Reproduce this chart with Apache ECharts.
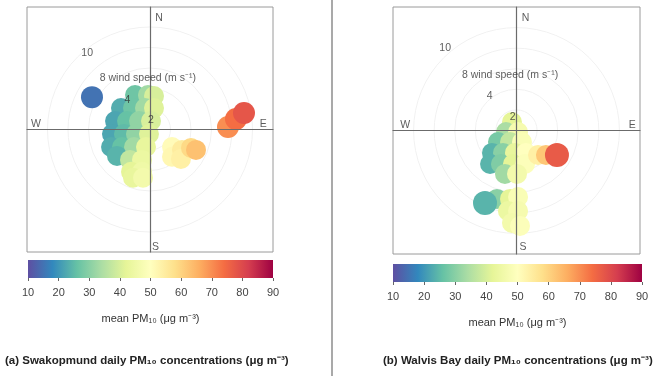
<!DOCTYPE html>
<html>
<head>
<meta charset="utf-8">
<script src="https://cdn.jsdelivr.net/npm/echarts@6/dist/echarts.min.js"></script>
<style>
html, body { margin: 0; padding: 0; background: #fff; }
#chart { width: 658px; height: 376px; }
</style>
</head>
<body>
<div id="chart"></div>
<script>
// polar plot points: [u (east, m/s), v (north, m/s), mean PM10]
var swakopFill = [
    [-1.46, 3.37, 27], [-0.20, 3.37, 33], [0.39, 3.27, 40],
    [-2.83, 2.10, 23], [-1.66, 2.10, 27], [-0.49, 2.10, 33], [0.39, 2.10, 41],
    [-3.41, 0.83, 22], [-2.24, 0.83, 26], [-1.07, 0.83, 31], [0.10, 0.83, 40],
    [-3.71, -0.44, 22], [-2.54, -0.44, 25], [-1.37, -0.44, 31], [-0.10, -0.44, 41],
    [-3.80, -1.71, 23], [-2.73, -1.71, 26], [-1.56, -1.71, 33], [-0.39, -1.71, 43],
    [-3.22, -2.59, 24], [-1.95, -2.98, 37], [-0.78, -2.98, 44],
    [-1.85, -4.15, 42], [-0.78, -4.15, 45], [-1.66, -4.73, 43], [-0.68, -4.73, 46],
    [2.15, -1.71, 51], [2.15, -2.68, 52], [3.12, -2.00, 55], [3.02, -2.88, 54],
    [4.00, -1.80, 59], [4.49, -2.00, 63]
];
var swakopSpots = [
    [-5.66, 3.17, 15],
    [7.61, 0.24, 70], [8.39, 1.02, 74], [9.17, 1.61, 78]
];
var walvisFill = [
    [-0.44, 0.83, 42], [-1.02, -0.15, 34], [0.15, -0.15, 47],
    [-1.80, -1.12, 28], [-0.63, -1.12, 37], [0.53, -1.12, 48],
    [-2.38, -2.18, 24], [-1.31, -2.18, 30], [-0.15, -2.18, 43], [0.92, -2.18, 50],
    [-2.57, -3.25, 24], [-1.51, -3.25, 29], [-0.34, -3.25, 42], [0.83, -3.25, 49],
    [-1.12, -4.22, 33], [0.05, -4.22, 46],
    [2.09, -2.38, 54], [2.86, -2.38, 62],
    [-1.90, -6.65, 30], [-0.63, -6.65, 42], [0.15, -6.46, 48],
    [-0.83, -7.82, 44], [0.15, -7.82, 47], [-0.44, -8.98, 46], [0.34, -9.27, 49]
];
var walvisSpots = [
    [3.93, -2.38, 77],
    [-3.06, -7.04, 24]
];

var rings = [2, 4, 6, 8, 10];
var colourTicks = [10, 20, 30, 40, 50, 60, 70, 80, 90];
var palette = ['#5e4fa2', '#3288bd', '#66c2a5', '#abdda4', '#e6f598', '#ffffbf',
    '#fee08b', '#fdae61', '#f46d43', '#d53e4f', '#9e0142'];

// text inside each polar panel: [x, y, text]
var swakopText = [
    [0.5, 10.9, 'N'], [0.2, -11.5, 'S'], [-11.6, 0.5, 'W'], [10.7, 0.5, 'E'],
    [-6.7, 7.46, '10'], [-4.9, 5.0, '8 wind speed (m s\u207b\u00b9)'],
    [-2.5, 2.88, '4'], [-0.2, 0.93, '2']
];
var walvisText = [
    [0.5, 10.9, 'N'], [0.3, -11.3, 'S'], [-11.3, 0.5, 'W'], [10.9, 0.5, 'E'],
    [-7.5, 8.0, '10'], [-5.3, 5.4, '8 wind speed (m s\u207b\u00b9)'],
    [-2.9, 3.35, '4'], [-0.65, 1.31, '2']
];

var font = 'Liberation Sans, Arial, sans-serif';
var chart = echarts.init(document.getElementById('chart'));

function polarX(i) {
    return {
        gridIndex: i, type: 'value', min: -12, max: 12, z: 5,
        axisLine: {onZero: true, lineStyle: {color: '#6b6b6b', width: 1.2}},
        axisTick: {show: false}, axisLabel: {show: false}, splitLine: {show: false}
    };
}
function barX(i) {
    return {
        gridIndex: i, type: 'value', min: 10, max: 90, interval: 10,
        axisLine: {show: false},
        axisTick: {show: true, length: 3, lineStyle: {color: '#666'}},
        axisLabel: {fontSize: 11, color: '#444', margin: 9, fontFamily: font},
        splitLine: {show: false},
        name: 'mean PM\u2081\u2080 (\u03bcg m\u207b\u00b3)', nameLocation: 'middle', nameGap: 35,
        nameTextStyle: {fontSize: 11, color: '#333', fontFamily: font}
    };
}
function hiddenY(i, mn, mx) {
    return {
        gridIndex: i, type: 'value', min: mn, max: mx, z: 5,
        axisLine: {show: mn < 0, onZero: true, lineStyle: {color: '#6b6b6b', width: 1.2}},
        axisTick: {show: false}, axisLabel: {show: false}, splitLine: {show: false}
    };
}
function ringSeries(i) {
    return {
        type: 'custom', xAxisIndex: i, yAxisIndex: i, silent: true, z: 1,
        data: rings.map(function (r) { return [r]; }),
        renderItem: function (params, api) {
            var c = api.coord([0, 0]);
            var r = api.size([api.value(0), 0])[0];
            return {type: 'circle', shape: {cx: c[0], cy: c[1], r: r},
                style: {fill: 'none', stroke: '#f1f1f1', lineWidth: 1}};
        }
    };
}
function textSeries(i, rows) {
    return {
        type: 'scatter', xAxisIndex: i, yAxisIndex: i, symbolSize: 0, z: 10, silent: true,
        data: rows,
        label: {
            show: true, position: 'inside', align: 'left', verticalAlign: 'middle',
            formatter: function (p) { return p.data[2]; },
            fontSize: 10.5, color: '#333', fontFamily: font
        }
    };
}
function barSeries(i) {
    var stops = palette.map(function (c, k) { return {offset: k / (palette.length - 1), color: c}; });
    return {
        type: 'custom', xAxisIndex: i, yAxisIndex: i, silent: true, clip: false,
        data: [[10, 90]],
        renderItem: function (params, api) {
            var a = api.coord([api.value(0), 1]);
            var b = api.coord([api.value(1), 0]);
            return {type: 'rect', shape: {x: a[0], y: a[1], width: b[0] - a[0], height: b[1] - a[1]},
                style: {fill: new echarts.graphic.LinearGradient(0, 0, 1, 0, stops)}};
        }
    };
}
function dots(i, rows, size) {
    return {type: 'scatter', xAxisIndex: i, yAxisIndex: i, symbolSize: size, z: 3, silent: true,
        itemStyle: {opacity: 1}, data: rows};
}

var option = {
    animation: false,
    textStyle: {fontFamily: font},
    title: [
        {text: '(a) Swakopmund daily PM\u2081\u2080 concentrations (\u03bcg m\u207b\u00b3)', left: 0, top: 350,
            textStyle: {fontSize: 11.5, fontWeight: 'bold', color: '#222', fontFamily: font}},
        {text: '(b) Walvis Bay daily PM\u2081\u2080 concentrations (\u03bcg m\u207b\u00b3)', left: 378, top: 350,
            textStyle: {fontSize: 11.5, fontWeight: 'bold', color: '#222', fontFamily: font}}
    ],
    grid: [
        {left: 27, top: 7, width: 246, height: 245, show: true, borderColor: '#9a9a9a', borderWidth: 1},
        {left: 393, top: 7, width: 247, height: 247, show: true, borderColor: '#9a9a9a', borderWidth: 1},
        {left: 28, top: 260, width: 245, height: 18},
        {left: 393, top: 264, width: 249, height: 18}
    ],
    xAxis: [polarX(0), polarX(1), barX(2), barX(3)],
    yAxis: [hiddenY(0, -12, 12), hiddenY(1, -12, 12), hiddenY(2, 0, 1), hiddenY(3, 0, 1)],
    visualMap: {
        type: 'continuous', show: false, min: 10, max: 90, dimension: 2,
        seriesIndex: [1, 2, 4, 5], inRange: {color: palette}
    },
    graphic: [{
        type: 'line', shape: {x1: 332, y1: 0, x2: 332, y2: 376},
        style: {stroke: '#8c8c8c', lineWidth: 1.5}
    }],
    series: [
        ringSeries(0), dots(0, swakopFill, 20), dots(0, swakopSpots, 22),
        ringSeries(1), dots(1, walvisFill, 20), dots(1, walvisSpots, 24),
        textSeries(0, swakopText), textSeries(1, walvisText),
        barSeries(2), barSeries(3)
    ]
};
chart.setOption(option);
</script>
</body>
</html>
